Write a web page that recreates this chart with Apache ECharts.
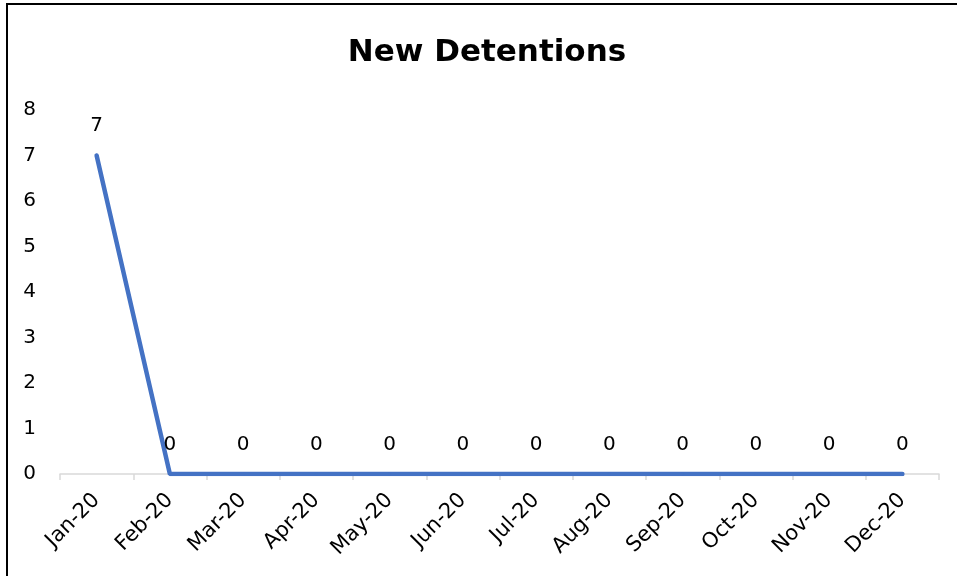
<!DOCTYPE html>
<html>
<head>
<meta charset="utf-8">
<script src="https://cdn.jsdelivr.net/npm/echarts@6/dist/echarts.min.js"></script>
<style>html,body{margin:0;padding:0;background:#fff}#c{width:957px;height:576px}</style>
</head>
<body>
<div id="c"></div>
<script>
const categories = ['Jan-20','Feb-20','Mar-20','Apr-20','May-20','Jun-20','Jul-20','Aug-20','Sep-20','Oct-20','Nov-20','Dec-20'];
const detentions = [7,0,0,0,0,0,0,0,0,0,0,0];
const yTicks = [0,1,2,3,4,5,6,7,8];

const font = 'DejaVu Sans';
const chart = echarts.init(document.getElementById('c'));
chart.setOption({
  animation: false,
  backgroundColor: '#fff',
  title: {
    text: 'New Detentions',
    left: 482,
    textAlign: 'center',
    top: 32,
    textStyle: { fontFamily: font, fontWeight: 'bold', fontSize: 31, color: '#000' }
  },
  graphic: [{
    type: 'rect', silent: true,
    shape: { x: 7, y: 4, width: 980, height: 620 },
    style: { fill: 'none', stroke: '#000', lineWidth: 2 }
  }],
  grid: { left: 60, right: 18, top: 110, bottom: 102, containLabel: false },
  xAxis: {
    type: 'category',
    data: categories,
    boundaryGap: true,
    axisLine: { lineStyle: { color: '#d9d9d9', width: 1.5 } },
    axisTick: { show: true, length: 6, lineStyle: { color: '#d9d9d9', width: 1.5 } },
    axisLabel: { rotate: 45, fontFamily: font, fontSize: 21, color: '#000', margin: 23, interval: 0 }
  },
  yAxis: {
    type: 'value',
    min: yTicks[0], max: yTicks[yTicks.length - 1], interval: 1,
    axisLine: { show: false },
    axisTick: { show: false },
    splitLine: { show: false },
    axisLabel: { fontFamily: font, fontSize: 20, color: '#000', margin: 24 }
  },
  series: [{
    type: 'line',
    data: detentions,
    symbol: 'circle',
    symbolSize: 3,
    showSymbol: true,
    itemStyle: { color: '#4472C4' },
    lineStyle: { color: '#4472C4', width: 4.5, cap: 'round' },
    label: { show: true, position: 'top', distance: 18, fontFamily: font, fontSize: 20, color: '#000' }
  }]
});
</script>
</body>
</html>
